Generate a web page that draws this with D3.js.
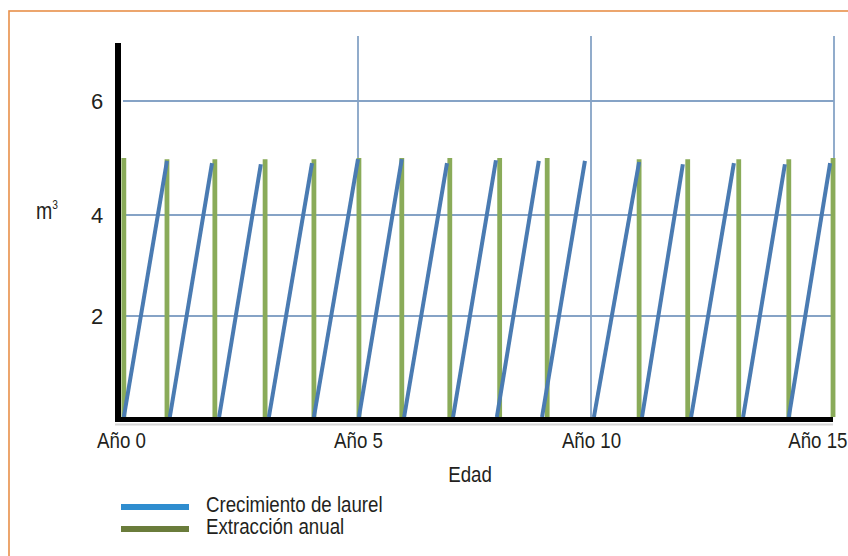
<!DOCTYPE html>
<html>
<head>
<meta charset="utf-8">
<script src="https://cdn.jsdelivr.net/npm/d3@7"></script>
<style>
  html, body { margin: 0; padding: 0; background: #fff; }
  svg { display: block; }
  text { font-family: "Liberation Sans", Arial, sans-serif; fill: #231f20; }
</style>
</head>
<body>
<svg id="chart" width="848" height="556"></svg>
<script>
// ---- data (years on x, m³ on y) ----
const yearTicks = [0, 5, 10, 15];
const yearTickLabels = ["Año 0", "Año 5", "Año 10", "Año 15"];
const volumeTicks = [2, 4, 6];

// Crecimiento de laurel: each segment starts at 0 and grows to a peak
const growthStart = [0.06, 1.03, 2.07, 3.12, 4.07, 5.02, 5.99, 7.04, 7.98, 8.95, 10.06, 11.05, 12.06, 13.13, 14.07];
const growthEnd   = [0.97, 1.92, 2.95, 4.03, 5.00, 5.94, 6.91, 7.96, 8.88, 9.87, 10.99, 11.89, 12.94, 13.99, 14.92];
const growthPeak  = [4.95, 4.91, 4.89, 4.91, 4.98, 4.98, 4.91, 4.96, 4.95, 4.95, 4.93, 4.89, 4.91, 4.89, 4.91];

// Extracción anual: vertical bars
const extractionYear  = [0.06, 0.97, 1.98, 3.04, 4.07, 5.02, 5.94, 6.97, 8.04, 9.06, 10.99, 11.99, 13.04, 14.07, 14.98];
const extractionValue = [5.0, 4.98, 4.98, 4.98, 4.98, 5.0, 5.0, 5.0, 5.0, 5.0, 4.98, 4.98, 4.98, 4.98, 5.0];

const legendLabels = ["Crecimiento de laurel", "Extracción anual"];

// ---- layout ----
const svg = d3.select("#chart");
const x = d3.scaleLinear().domain([0, 5, 10, 15]).range([121, 358, 591, 834]);
const y = d3.scaleLinear().domain([0, 2, 4, 6]).range([417, 316, 215, 101]);
const SX = 0.85; // horizontal text compression seen in the reference

// orange frame (top and left edges visible)
svg.append("rect").attr("x", 9).attr("y", 11).attr("width", 860).attr("height", 560)
  .attr("fill", "none").attr("stroke", "#e8904a").attr("stroke-width", 1.6);

// gridlines
const gridColor = "#86a3c6";
svg.append("g").selectAll("line").data(volumeTicks).join("line")
  .attr("x1", 123).attr("x2", x(15))
  .attr("y1", d => y(d)).attr("y2", d => y(d))
  .attr("stroke", gridColor).attr("stroke-width", 1.8);
svg.append("g").selectAll("line").data(yearTicks.slice(1)).join("line")
  .attr("x1", d => x(d)).attr("x2", d => x(d))
  .attr("y1", 36).attr("y2", y(0))
  .attr("stroke", gridColor).attr("stroke-width", 1.8);

// extraction bars
svg.append("g").selectAll("line").data(extractionYear).join("line")
  .attr("x1", d => x(d)).attr("x2", d => x(d))
  .attr("y1", y(0)).attr("y2", (d, i) => y(extractionValue[i]))
  .attr("stroke", "#8aab59").attr("stroke-width", 4.8);

// growth lines
svg.append("g").selectAll("line").data(growthStart).join("line")
  .attr("x1", d => x(d)).attr("y1", y(0))
  .attr("x2", (d, i) => x(growthEnd[i])).attr("y2", (d, i) => y(growthPeak[i]))
  .attr("stroke", "#4a7bb2").attr("stroke-width", 4);

// axes lines (thick black)
svg.append("line").attr("x1", 115).attr("x2", x(15) - 1).attr("y1", 424.5).attr("y2", 424.5)
  .attr("stroke", "#d6d6d6").attr("stroke-width", 2);
svg.append("line").attr("x1", 115).attr("x2", x(15) - 1).attr("y1", y(0) + 2.5).attr("y2", y(0) + 2.5)
  .attr("stroke", "#000").attr("stroke-width", 5);
svg.append("line").attr("x1", 118).attr("x2", 118).attr("y1", 43).attr("y2", y(0) + 5)
  .attr("stroke", "#000").attr("stroke-width", 6);

// y axis labels
const yAxis = svg.append("g").attr("transform", "translate(118,0)")
  .call(d3.axisLeft(y).tickValues(volumeTicks).tickSize(0).tickPadding(0).tickFormat(d3.format("d")));
yAxis.select(".domain").remove();
yAxis.selectAll("text").attr("font-size", 22).attr("x", -21).attr("text-anchor", "middle")
  .attr("font-family", "Liberation Sans, Arial, sans-serif").attr("fill", "#231f20")
  .attr("dy", "0.35em");

// x axis labels
const xAxis = svg.append("g").attr("transform", `translate(0,${y(0)})`)
  .call(d3.axisBottom(x).tickValues(yearTicks).tickSize(0).tickPadding(0)
    .tickFormat((d, i) => yearTickLabels[i]));
xAxis.select(".domain").remove();
xAxis.selectAll("text").attr("font-size", 22).attr("y", 31).attr("dy", 0)
  .attr("font-family", "Liberation Sans, Arial, sans-serif").attr("fill", "#231f20")
  .attr("text-anchor", (d, i) => i === 3 ? "end" : "middle")
  .attr("transform", (d, i) => i === 3 ? `translate(13,0) scale(${SX},1)` : `scale(${SX},1)`);

// axis titles
svg.append("text").attr("transform", `translate(470,482) scale(${SX},1)`)
  .attr("text-anchor", "middle").attr("font-size", 22).text("Edad");
const m3 = svg.append("text").attr("transform", `translate(36,219) scale(${SX},1)`)
  .attr("font-size", 23);
m3.append("tspan").text("m");
m3.append("tspan").attr("font-size", 12).attr("dy", -10).text("3");

// legend
const legendColors = ["#2f8dcf", "#6a7c3b"];
const lg = svg.append("g").selectAll("g").data(legendLabels).join("g")
  .attr("transform", (d, i) => `translate(121,${507 + i * 22})`);
lg.append("line").attr("x1", 0).attr("x2", 68).attr("y1", 0).attr("y2", 0)
  .attr("stroke", (d, i) => legendColors[i]).attr("stroke-width", 6);
lg.append("text").attr("transform", `translate(85,3) scale(${SX},1)`)
  .attr("font-size", 22).attr("dy", "0.1em").text(d => d);
</script>
</body>
</html>
